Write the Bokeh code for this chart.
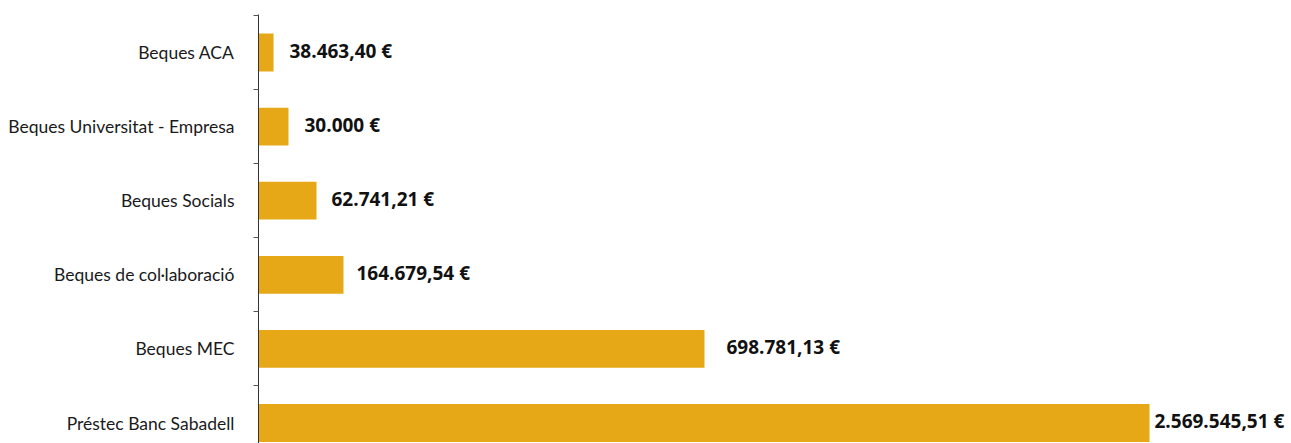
from bokeh.plotting import figure
from bokeh.models import ColumnDataSource, FixedTicker, LabelSet, Range1d
from bokeh.core.properties import value
from bokeh.embed import file_html
from bokeh.resources import INLINE

# Data (top to bottom as in the chart)
categories = ["Beques ACA", "Beques Universitat - Empresa", "Beques Socials",
              "Beques de col·laboració", "Beques MEC", "Préstec Banc Sabadell"]
amounts = [38463.40, 30000.00, 62741.21, 164679.54, 698781.13, 2569545.51]
# bar lengths as drawn in the picture (in € on the chart's scale)
bar_lengths = [43300, 86500, 167300, 245100, 1286200, 2569545.51]


def fmt_eur(v):
    if abs(v - round(v)) < 1e-9:
        s = f"{int(round(v)):,}".replace(",", ".")
    else:
        s = f"{v:,.2f}".replace(",", "X").replace(".", ",").replace("X", ".")
    return s + " €"


labels = [fmt_eur(v) for v in amounts]
n = len(categories)
ypos = [n - 1 - i for i in range(n)]  # top category highest
label_offsets = [16, 16, 15, 13, 22, 5]

src = ColumnDataSource(dict(y=ypos, right=bar_lengths, label=labels,
                            xoff=label_offsets))

W, H = 1291, 443
p = figure(width=W, height=H, output_backend="svg", toolbar_location=None,
           x_axis_location=None, min_border_top=14, min_border_bottom=0,
           min_border_left=258, min_border_right=0)
frame_w = W - 258
px_per_unit = 891 / bar_lengths[-1]
p.x_range = Range1d(0, frame_w / px_per_unit)
p.y_range = Range1d(5.513 - (H - 14) / 74.1, 5.513)

p.hbar(y="y", left=0, right="right", height=0.51, source=src,
       fill_color="#E6A817", line_color=None)

ls = LabelSet(x="right", y="y", text="label", x_offset="xoff", source=src,
              text_font=value("Open Sans"), text_font_style="bold",
              text_font_size="19px", text_color="#111111",
              text_baseline="middle", text_align="left", y_offset=2)
p.add_layout(ls)

yax = p.yaxis[0]
yax.ticker = FixedTicker(ticks=ypos, minor_ticks=[i + 0.5 for i in range(-1, n)])
yax.major_label_overrides = {y: c for y, c in zip(ypos, categories)}
yax.major_tick_out = 0
yax.major_tick_in = 0
yax.minor_tick_out = 5
yax.minor_tick_in = 0
yax.minor_tick_line_color = "#555555"
yax.axis_line_color = "#333333"
yax.major_label_standoff = 19
yax.major_label_text_font = "Lato"
yax.major_label_text_font_size = "17.5px"
yax.major_label_text_color = "#1a1a1a"

p.grid.visible = False
p.outline_line_color = None
p.background_fill_color = "white"
p.border_fill_color = "white"

open("out.html", "w").write(file_html(p, INLINE))
